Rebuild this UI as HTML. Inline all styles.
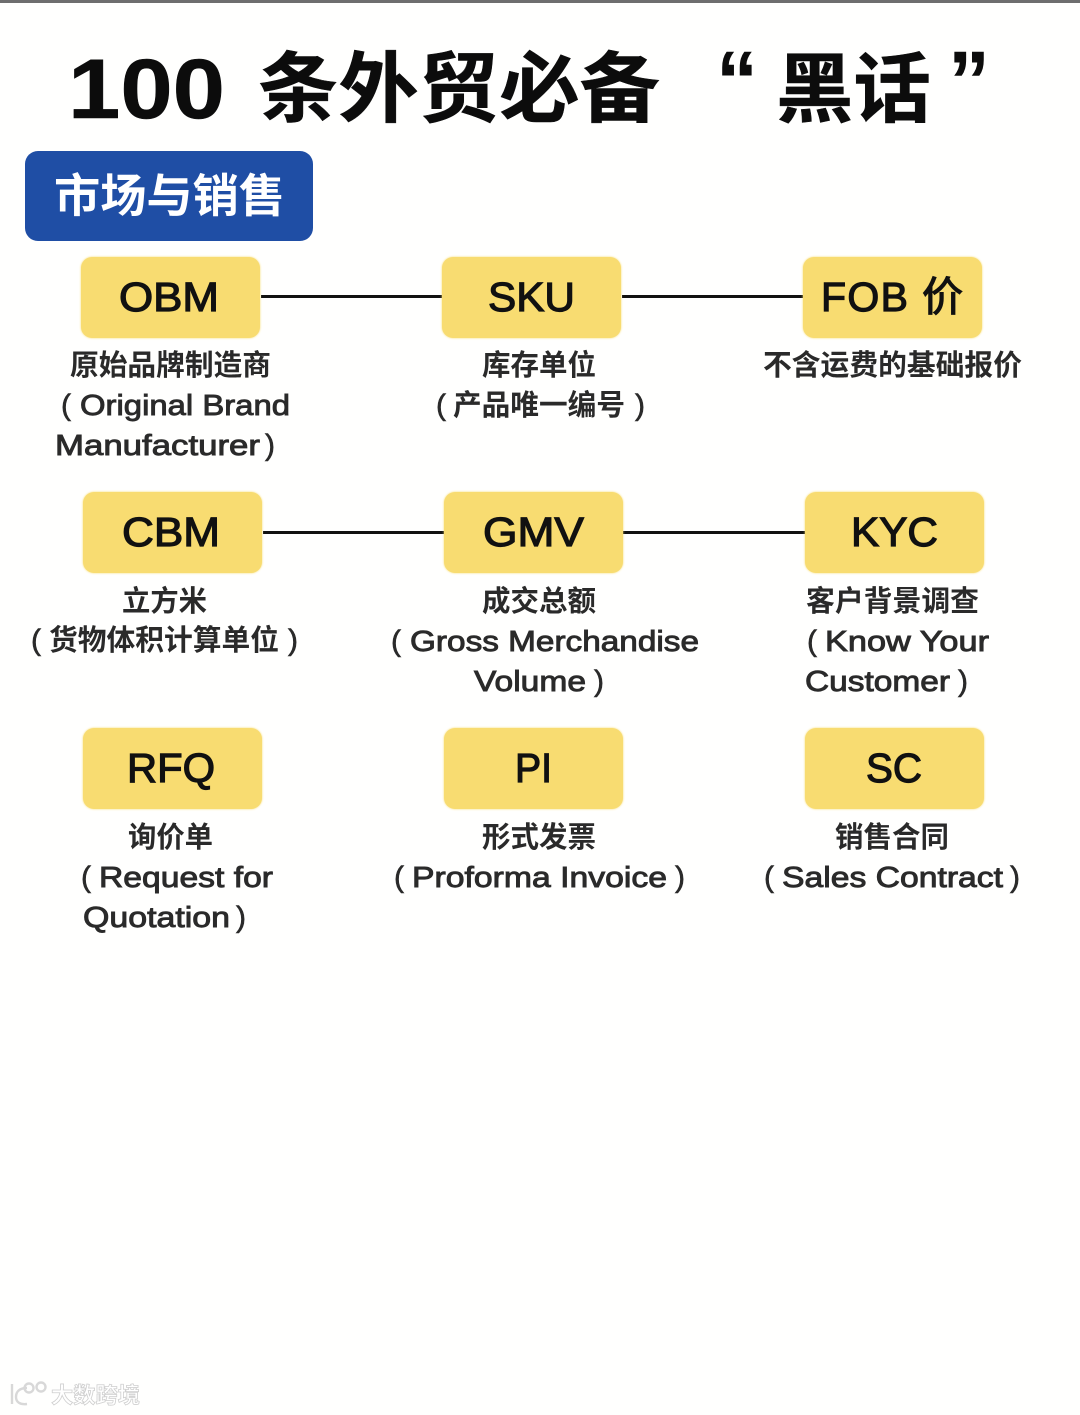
<!DOCTYPE html>
<html lang="zh">
<head>
<meta charset="utf-8">
<style>
html,body{margin:0;padding:0;background:#fff}
#c{position:relative;width:1080px;height:1415px;overflow:hidden;background:#fffffe;font-family:"Liberation Sans","Noto Sans CJK SC",sans-serif;color:#111}
#c>div{position:absolute;white-space:nowrap}
.b{background:#f8dc71;border-radius:11px;width:179px;height:81px;box-shadow:0 0 2px #f8dc71}
.l{background:#111;height:3px;width:182px}
svg text{font-family:"Liberation Sans","Noto Sans CJK SC",sans-serif}
.k{font-size:41px;fill:#111;stroke:#111;stroke-width:1.2px}
.z{font-size:29px;font-weight:bold;fill:#2a2a2a}
.e{font-size:29px;fill:#2a2a2a;stroke:#2a2a2a;stroke-width:.9px}
.p{font-size:30px;fill:#2a2a2a;stroke:#2a2a2a;stroke-width:.6px}
.h{font-weight:bold;fill:#0c0c0c;stroke:#0c0c0c;stroke-width:.5px}
</style>
</head>
<body>
<div id="c">
<div style="left:0;top:0;width:1080px;height:3px;background:#6e6e6e"></div>
<div style="left:25px;top:151px;width:288px;height:90px;background:#1f4ea5;border-radius:13px"></div>

<div class="l" style="left:261px;top:295px"></div>
<div class="l" style="left:622px;top:295px"></div>
<div class="l" style="left:263px;top:531px"></div>
<div class="l" style="left:623px;top:531px"></div>

<div class="b" style="left:81px;top:257px"></div>
<div class="b" style="left:442px;top:257px"></div>
<div class="b" style="left:803px;top:257px"></div>
<div class="b" style="left:83px;top:492px"></div>
<div class="b" style="left:444px;top:492px"></div>
<div class="b" style="left:805px;top:492px"></div>
<div class="b" style="left:83px;top:728px"></div>
<div class="b" style="left:444px;top:728px"></div>
<div class="b" style="left:805px;top:728px"></div>

<svg style="position:absolute;left:0;top:0" width="1080" height="1415" viewBox="0 0 1080 1415">
<!-- title -->
<text class="h" x="68" y="118" font-size="84" textLength="157" lengthAdjust="spacingAndGlyphs">100</text>
<text class="h" x="258" y="116" font-size="77" textLength="402" lengthAdjust="spacingAndGlyphs">条外贸必备</text>
<text class="h" x="716" y="110" font-size="84" style="stroke:none">“</text>
<text class="h" x="776" y="116" font-size="76" textLength="155" lengthAdjust="spacingAndGlyphs">黑话</text>
<text class="h" x="948" y="110" font-size="84" style="stroke:none">”</text>
<!-- section -->
<text x="54" y="212" font-size="46" font-weight="bold" fill="#fff" textLength="231" lengthAdjust="spacingAndGlyphs">市场与销售</text>

<!-- key labels -->
<text class="k" x="119" y="311" textLength="100" lengthAdjust="spacingAndGlyphs">OBM</text>
<text class="k" x="488" y="311" textLength="87" lengthAdjust="spacingAndGlyphs">SKU</text>
<text class="k" x="821" y="311" textLength="142" lengthAdjust="spacing">FOB 价</text>
<text class="k" x="122" y="546" textLength="98" lengthAdjust="spacingAndGlyphs">CBM</text>
<text class="k" x="483" y="546" textLength="101" lengthAdjust="spacingAndGlyphs">GMV</text>
<text class="k" x="851" y="546" textLength="87" lengthAdjust="spacingAndGlyphs">KYC</text>
<text class="k" x="127" y="782" textLength="88" lengthAdjust="spacingAndGlyphs">RFQ</text>
<text class="k" x="515" y="782" textLength="37" lengthAdjust="spacingAndGlyphs">PI</text>
<text class="k" x="866" y="782" textLength="56" lengthAdjust="spacingAndGlyphs">SC</text>

<!-- row 1 -->
<text class="z" x="70" y="375" textLength="201" lengthAdjust="spacingAndGlyphs">原始品牌制造商</text>
<text class="p" x="61" y="415">(</text>
<text class="e" x="80" y="415" textLength="210" lengthAdjust="spacingAndGlyphs">Original Brand</text>
<text class="e" x="55" y="455" textLength="205" lengthAdjust="spacingAndGlyphs">Manufacturer</text>
<text class="p" x="265" y="455">)</text>

<text class="z" x="482" y="375" textLength="114" lengthAdjust="spacingAndGlyphs">库存单位</text>
<text class="p" x="436" y="415">(</text>
<text class="z" x="453" y="415" textLength="172" lengthAdjust="spacingAndGlyphs">产品唯一编号</text>
<text class="p" x="635" y="415">)</text>

<text class="z" x="763" y="375" textLength="259" lengthAdjust="spacingAndGlyphs">不含运费的基础报价</text>

<!-- row 2 -->
<text class="z" x="122" y="611" textLength="85" lengthAdjust="spacingAndGlyphs">立方米</text>
<text class="p" x="31" y="650">(</text>
<text class="z" x="49" y="650" textLength="230" lengthAdjust="spacingAndGlyphs">货物体积计算单位</text>
<text class="p" x="288" y="650">)</text>

<text class="z" x="482" y="611" textLength="114" lengthAdjust="spacingAndGlyphs">成交总额</text>
<text class="p" x="391" y="651">(</text>
<text class="e" x="410" y="651" textLength="289" lengthAdjust="spacingAndGlyphs">Gross Merchandise</text>
<text class="e" x="474" y="691" textLength="112" lengthAdjust="spacingAndGlyphs">Volume</text>
<text class="p" x="594" y="691">)</text>

<text class="z" x="806" y="611" textLength="173" lengthAdjust="spacingAndGlyphs">客户背景调查</text>
<text class="p" x="807" y="651">(</text>
<text class="e" x="825" y="651" textLength="164" lengthAdjust="spacingAndGlyphs">Know Your</text>
<text class="e" x="805" y="691" textLength="145" lengthAdjust="spacingAndGlyphs">Customer</text>
<text class="p" x="958" y="691">)</text>

<!-- row 3 -->
<text class="z" x="128" y="847" textLength="85" lengthAdjust="spacingAndGlyphs">询价单</text>
<text class="p" x="81" y="887">(</text>
<text class="e" x="99" y="887" textLength="174" lengthAdjust="spacingAndGlyphs">Request for</text>
<text class="e" x="83" y="927" textLength="147" lengthAdjust="spacingAndGlyphs">Quotation</text>
<text class="p" x="236" y="927">)</text>

<text class="z" x="482" y="847" textLength="114" lengthAdjust="spacingAndGlyphs">形式发票</text>
<text class="p" x="394" y="887">(</text>
<text class="e" x="412" y="887" textLength="255" lengthAdjust="spacingAndGlyphs">Proforma Invoice</text>
<text class="p" x="675" y="887">)</text>

<text class="z" x="835" y="847" textLength="114" lengthAdjust="spacingAndGlyphs">销售合同</text>
<text class="p" x="764" y="887">(</text>
<text class="e" x="782" y="887" textLength="221" lengthAdjust="spacingAndGlyphs">Sales Contract</text>
<text class="p" x="1010" y="887">)</text>

<!-- watermark -->
<g fill="none" stroke="#d8d8d8" stroke-width="2.4" transform="translate(8,1380)">
<path d="M4 4V24"/>
<path d="M19 8C11 8 8 12 8 17C8 22 12 25 19 24"/>
<circle cx="21" cy="8" r="4.5"/>
<circle cx="33" cy="7" r="4.5"/>
</g>
<text x="51" y="1403" font-size="22" font-weight="bold" fill="#fff" stroke="#cfcfcf" stroke-width=".8" textLength="89" lengthAdjust="spacingAndGlyphs">大数跨境</text>
</svg>
</div>
</body>
</html>
